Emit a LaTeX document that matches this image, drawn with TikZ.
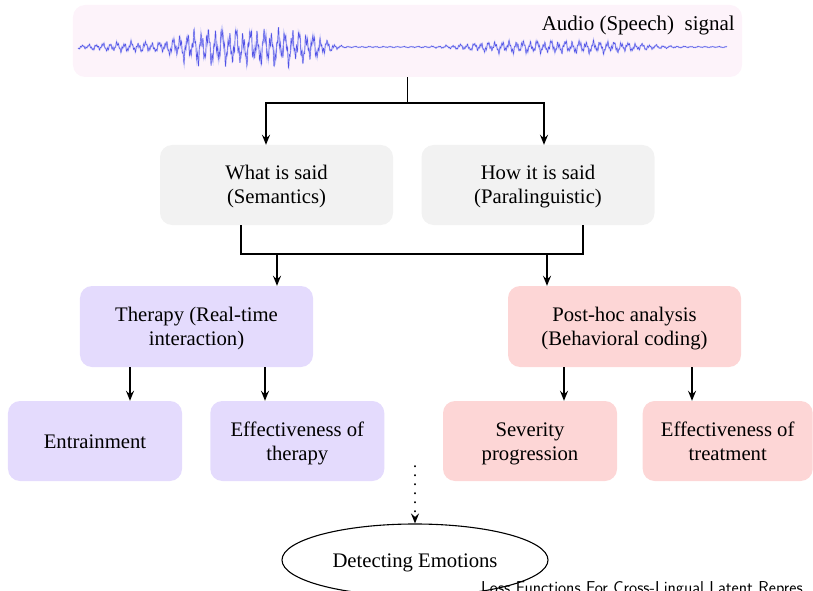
\documentclass[tikz,border=0pt]{standalone}
\usepackage{fontspec}
\setmainfont{Liberation Serif}
\usetikzlibrary{shapes.geometric,arrows.meta,positioning,calc}

\definecolor{audiobg}{RGB}{253,243,250}
\definecolor{saidbg}{RGB}{242,242,242}
\definecolor{therapybg}{RGB}{228,219,253}
\definecolor{posthocbg}{RGB}{253,214,214}
\definecolor{wave}{RGB}{80,80,230}

\tikzset{
    box/.style={rectangle, rounded corners=12bp, draw=none, align=center, inner sep=0pt,
        minimum width=233bp, minimum height=80bp, text height=38bp, text depth=0bp,
        font=\fontsize{20.7bp}{24bp}\selectfont},
    leaf/.style={box, minimum width=174bp},
    oneline/.style={text height=14bp, text depth=0bp},
    arr/.style={line width=1.8bp, -{Stealth[length=10bp,width=8bp,inset=3.5bp]}},
    link/.style={line width=1.8bp},
}

\begin{document}
\begin{tikzpicture}[x=1bp, y=-1bp,
    declare function={
        wenv(\t)=0.6+5*exp(-(min(abs(\t-135)/50,4)^2))+18*exp(-(min(abs(\t-250)/76,2)^6))+6*exp(-(min(abs(\t-555)/95,3)^4));
        wosc(\t)=0.6*sin(51.4286*mod(\t,7))+0.3*sin(200*mod(\t,9))+0.18*sin(24*mod(\t,15))+0.15*sin(120*mod(\t,3));
    }]
    \useasboundingbox (0,0) rectangle (813,591);
    \clip (0,0) rectangle (813,591);

    % Audio signal
    \node [box, fill=audiobg, minimum width=669bp, minimum height=72bp] (audio) at (407.5,41) {};
    \node [anchor=east, inner sep=0pt, oneline, font=\fontsize{21bp}{24bp}\selectfont] (audiolbl) at (735,24) {Audio (Speech)~ signal};
    \foreach \c/\w in {wave!30/1.4bp, wave/0.45bp} {
        \draw [\c, line width=\w] plot [domain=78:727, samples=1800, variable=\t] (\t, {47+wenv(\t)*wosc(\t)});
    }

    % What / how
    \node [box, fill=saidbg] (what) at (276.5,185) {What is said\\(Semantics)};
    \node [box, fill=saidbg] (how) at (538,185) {How it is said\\(Paralinguistic)};

    % Applications
    \node [box, fill=therapybg, minimum height=81bp] (therapy) at (196.5,326.5) {Therapy (Real-time\\interaction)};
    \node [box, fill=posthocbg, minimum height=81bp] (posthoc) at (624.5,326.5) {Post-hoc analysis\\(Behavioral coding)};

    \node [leaf, oneline, fill=therapybg] (entrain) at (95,441) {Entrainment};
    \node [leaf, fill=therapybg] (efftherapy) at (297.3,441) {Effectiveness of\\therapy};
    \node [leaf, fill=posthocbg] (severity) at (530,441) {Severity\\progression};
    \node [leaf, fill=posthocbg, minimum width=170bp] (efftreat) at (727.7,441) {Effectiveness of\\treatment};

    \node [ellipse, draw, line width=1.1bp, minimum width=266bp, minimum height=72bp, oneline,
        font=\fontsize{20.7bp}{24bp}\selectfont] (emotions) at (415,560) {Detecting Emotions};

    % Connectors
    \coordinate (fork) at (407.5,103);
    \draw [link] (audio.south) -- (fork);
    \draw [arr] (fork) -| ([xshift=-10.5bp]what.north);
    \draw [arr] (fork) -| ([xshift=6bp]how.north);

    \coordinate (joinL) at (277,254);
    \coordinate (joinR) at (547,254);
    \draw [link] ([xshift=-35.5bp]what.south) |- (joinL) -| ([xshift=44.7bp]how.south);
    \draw [arr] (joinL) -- (joinL |- therapy.north);
    \draw [arr] (joinR) -- (joinR |- posthoc.north);

    \foreach \src/\dst/\dx in {therapy/entrain/-66.5, therapy/efftherapy/68.5,
        posthoc/severity/-60.5, posthoc/efftreat/67.5} {
        \draw [arr] ([xshift=\dx bp]\src.south) -- ([xshift=\dx bp]\src.south |- \dst.north);
    }

    \coordinate (dots) at (415,466);
    \draw [arr, line cap=round, dash pattern=on 0.5bp off 8.5bp] (dots) -- (emotions.north);

    % Footer
    \node [anchor=base west, inner sep=0pt, font=\sffamily\fontsize{17.2bp}{18bp}\selectfont] (footer) at (481,593.9) {Loss Functions For Cross-Lingual Latent Repres};
\end{tikzpicture}
\end{document}
